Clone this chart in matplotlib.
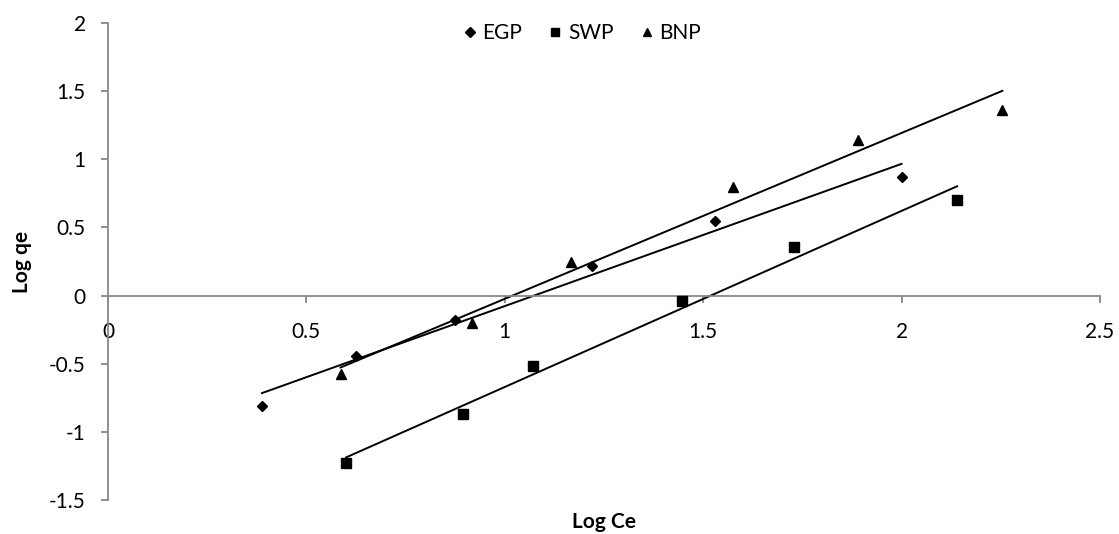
import matplotlib
matplotlib.use('Agg')

import matplotlib.pyplot as plt
import numpy as np

# data
egp_x = [0.388, 0.626, 0.875, 1.22, 1.53, 2.0]
egp_y = [-0.81, -0.44, -0.18, 0.216, 0.55, 0.87]
swp_x = [0.60, 0.894, 1.07, 1.446, 1.73, 2.14]
swp_y = [-1.23, -0.87, -0.517, -0.037, 0.36, 0.70]
bnp_x = [0.586, 0.918, 1.168, 1.575, 1.89, 2.254]
bnp_y = [-0.576, -0.20, 0.245, 0.80, 1.14, 1.36]

x_ticks = [0, 0.5, 1, 1.5, 2, 2.5]
y_ticks = [-1.5, -1, -0.5, 0, 0.5, 1, 1.5, 2]

plt.rcParams['font.family'] = ['Lato', 'DejaVu Sans']
fs = 15

fig = plt.figure(figsize=(11.19, 5.34), dpi=100)
ax = fig.add_axes([0.0965, 0.0637, 0.8865, 0.893])

series = [('EGP', egp_x, egp_y, 'D', 5.5),
          ('SWP', swp_x, swp_y, 's', 7.5),
          ('BNP', bnp_x, bnp_y, '^', 7.5)]

for name, xs, ys, mk, ms in series:
    xs = np.array(xs)
    ys = np.array(ys)
    ax.plot(xs, ys, linestyle='none', marker=mk, markersize=ms, color='black',
            label=name, zorder=3)
    # linear trendline, as in the spreadsheet
    k, b = np.polyfit(xs, ys, 1)
    xl = np.array([xs.min(), xs.max()])
    ax.plot(xl, k * xl + b, color='black', lw=1.4, zorder=2)

ax.set_xlim(0, 2.5)
ax.set_ylim(-1.5, 2)
ax.set_xticks(x_ticks)
ax.set_yticks(y_ticks)
ax.set_xticklabels([f'{t:g}' for t in x_ticks])
ax.set_yticklabels([f'{t:g}' for t in y_ticks])

ax.spines['top'].set_visible(False)
ax.spines['right'].set_visible(False)
ax.spines['bottom'].set_position(('data', 0))
for s in ('left', 'bottom'):
    ax.spines[s].set_color('#888888')
    ax.spines[s].set_linewidth(1.3)
ax.tick_params(direction='out', length=5, width=1.3, color='#888888',
               labelsize=fs, labelcolor='black')
ax.tick_params(axis='x', pad=14)
ax.tick_params(axis='y', pad=11)

ax.set_xlabel('Log Ce', fontsize=fs, fontweight='bold', va='center')
ax.set_ylabel('Log qe', fontsize=fs, fontweight='bold', va='center')
ax.xaxis.set_label_coords(0.5, -0.046)
ax.yaxis.set_label_coords(-0.087, 0.5)

ax.legend(loc='center', bbox_to_anchor=(0.476, 0.979), ncol=3, frameon=False,
          fontsize=fs, handletextpad=0.1, columnspacing=1.1, handlelength=1.0,
          markerscale=0.85)

fig.savefig('out.png', dpi=100)
plt.close(fig)
